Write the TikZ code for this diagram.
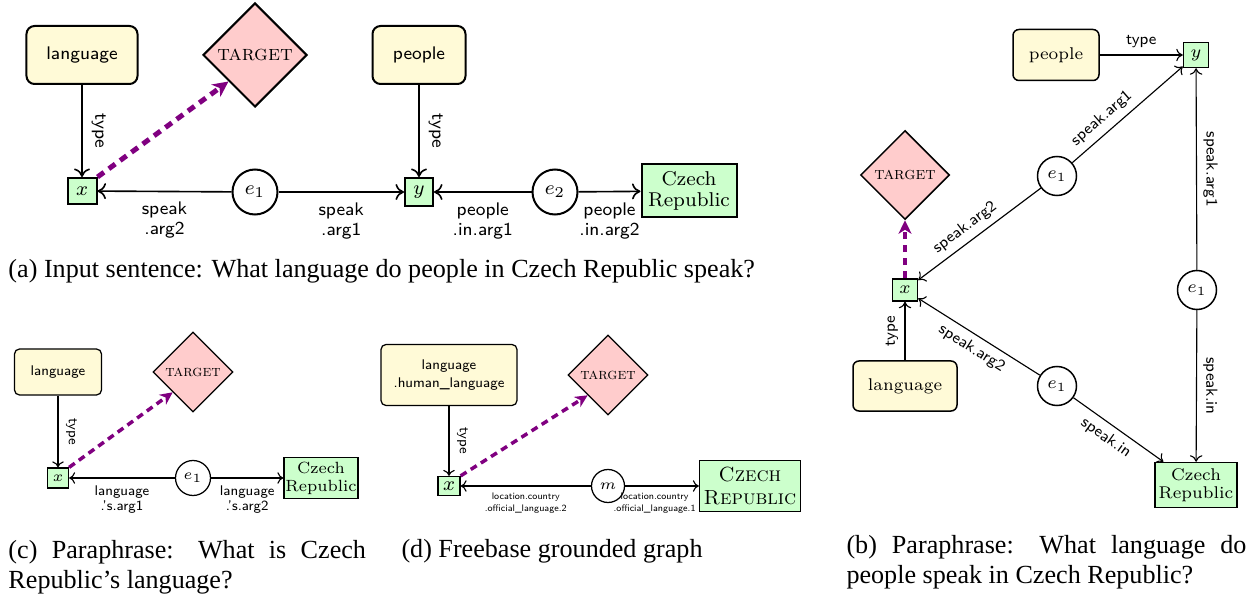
\documentclass[tikz,border=0pt]{standalone}
\usepackage{fontspec}
\newfontfamily\capfont{Liberation Serif}
\usetikzlibrary{shapes.geometric,arrows.meta}
\definecolor{yel}{RGB}{255,250,215}
\definecolor{grn}{RGB}{204,255,204}
\definecolor{pnk}{RGB}{255,204,204}
\definecolor{purp}{RGB}{128,0,128}
\newcommand\fsz[2]{\fontsize{#1}{#2}\selectfont}
\newcommand\capsetup{\capfont\fsz{10.45}{12}\hyphenpenalty=10000\relax\exhyphenpenalty=10000\relax\tolerance=10000\relax}
\begin{document}
\begin{tikzpicture}[x=0.4pt,y=-0.4pt,
  every node/.style={inner sep=0pt},
  captext/.style={font=\capsetup, inner sep=0pt},
]
\useasboundingbox (0,0) rectangle (1248,599);

% ---------------- panel (a)
\begin{scope}[
  ybox/.style={draw, fill=yel, rounded corners=3.2pt, line width=0.8pt, minimum height=23.2pt, font=\sffamily\fsz{7.3}{8}},
  gbox/.style={draw, fill=grn, line width=0.8pt, align=center, font=\fsz{8}{8.5}},
  tgt/.style={draw, fill=pnk, diamond, aspect=1, line width=0.8pt, minimum size=41.6pt, font=\fsz{8.6}{9}},
  ev/.style={draw, circle, line width=0.8pt, minimum size=18pt, font=\fsz{8}{9}},
  arr/.style={-{To[length=3.4pt,width=6.4pt]}, line width=0.65pt},
  dsh/.style={-{Stealth[length=6.2pt,width=6pt,inset=1.8pt]}, purp, line width=2pt, dash pattern=on 3.2pt off 2.4pt},
  tl/.style={midway, rotate=-90, anchor=south, inner sep=3.5pt, font=\sffamily\fsz{7.3}{8}},
  el/.style={midway, below=4pt, align=center, font=\sffamily\fsz{7.3}{8}},
]
\node[ybox, minimum width=44.4pt] (la) at (82,55) {language};
\node[tgt] (ta) at (255,55) {\textsc{target}};
\node[ybox, minimum width=37.2pt] (pa) at (419,55) {people};
\node[gbox, minimum width=11.6pt, minimum height=10.4pt] (xa) at (82,191) {$x$};
\node[ev] (e1a) at (255,192) {$e_1$};
\node[gbox, minimum width=11.2pt, minimum height=11.2pt] (ya) at (419,192) {$y$};
\node[ev] (e2a) at (555,192) {$e_2$};
\node[gbox, minimum width=38pt, minimum height=21.2pt] (ca) at (689,191) {Czech\\Republic};
\draw[arr] (la) -- node[tl] {type} (xa);
\draw[arr] (pa) -- node[tl] {type} (ya);
\draw[arr] (e1a) -- node[el] {speak\\.arg2} (xa);
\draw[arr] (e1a) -- node[el] {speak\\.arg1} (ya);
\draw[arr] (e2a) -- node[el] {people\\.in.arg1} (ya);
\draw[arr] (e2a) -- node[el] {people\\.in.arg2} (ca);
\draw[dsh] (xa.north east) -- (ta.south west);
\end{scope}

% ---------------- panel (b)
\begin{scope}[
  ybox/.style={draw, fill=yel, rounded corners=2.4pt, line width=0.6pt, minimum height=20.4pt, font=\fsz{6.8}{8}},
  gbox/.style={draw, fill=grn, line width=0.6pt, align=center, font=\fsz{6.8}{7.4}},
  tgt/.style={draw, fill=pnk, diamond, aspect=1, line width=0.6pt, minimum size=35.6pt, font=\fsz{7}{8}},
  ev/.style={draw, circle, line width=0.6pt, minimum size=15.6pt, font=\fsz{6.8}{8}},
  arr/.style={-{To[length=2.6pt,width=5pt]}, line width=0.45pt},
  rarr/.style={{To[length=2.6pt,width=5pt]}-, line width=0.45pt},
  dsh/.style={-{Stealth[length=5.4pt,width=5.2pt,inset=1.6pt]}, purp, line width=1.6pt, dash pattern=on 3pt off 2.2pt},
  lab/.style={font=\sffamily\fsz{6.4}{7}, inner sep=2.5pt},
]
\node[ybox, minimum width=34.4pt] (pb) at (1056,55) {people};
\node[gbox, minimum width=10pt, minimum height=10pt] (yb) at (1196,55) {$y$};
\node[ev] (e1t) at (1057,176) {$e_1$};
\node[tgt] (tb) at (905,175) {\textsc{target}};
\node[gbox, minimum width=10pt, minimum height=8.8pt] (xb) at (905,290) {$x$};
\node[ev] (e1r) at (1197,290) {$e_1$};
\node[ybox, minimum width=41.6pt, minimum height=20pt] (lb) at (905,386) {language};
\node[ev] (e1b) at (1057,386) {$e_1$};
\node[gbox, minimum width=32.8pt, minimum height=18pt] (cb) at (1196,485) {Czech\\Republic};
\draw[arr] (pb) -- node[lab, midway, above] {type} (yb);
\draw[arr] (e1t) -- node[lab, sloped, above, pos=0.35] {speak.arg1} (yb);
\draw[rarr] (xb) -- node[lab, sloped, above, pos=0.45] {speak.arg2} (e1t);
\draw[arr] (e1r) -- node[lab, midway, rotate=-90, anchor=south] {speak.arg1} (yb);
\draw[arr] (lb) -- node[lab, midway, rotate=90, anchor=south] {type} (xb);
\draw[rarr] (xb) -- node[lab, sloped, below, pos=0.5] {speak.arg2} (e1b);
\draw[arr] (e1b) -- node[lab, sloped, below, pos=0.45] {speak.in} (cb);
\draw[arr] (e1r) -- node[lab, midway, rotate=-90, anchor=south] {speak.in} (cb);
\draw[dsh] (xb) -- (tb);
\end{scope}

% ---------------- panel (c)
\begin{scope}[
  ybox/.style={draw, fill=yel, rounded corners=2pt, line width=0.5pt, font=\sffamily\fsz{5.6}{6.5}},
  gbox/.style={draw, fill=grn, line width=0.5pt, align=center, font=\fsz{6.5}{7.2}},
  tgt/.style={draw, fill=pnk, diamond, aspect=1, line width=0.5pt, minimum size=32pt, font=\fsz{6.3}{7}},
  ev/.style={draw, circle, line width=0.5pt, minimum size=14pt, font=\fsz{6.5}{7}},
  arr/.style={-{To[length=2.4pt,width=4.6pt]}, line width=0.45pt},
  dsh/.style={-{Stealth[length=5pt,width=4.8pt,inset=1.5pt]}, purp, line width=1.4pt, dash pattern=on 2.8pt off 2pt},
  tl/.style={midway, rotate=-90, anchor=south, inner sep=3pt, font=\sffamily\fsz{5.6}{6.5}},
  el/.style={midway, below=3pt, align=center, font=\sffamily\fsz{5.6}{6}},
]
\node[ybox, minimum width=34.8pt, minimum height=18.4pt] (lc) at (58,372) {language};
\node[tgt] (tc) at (193,372) {\textsc{target}};
\node[gbox, minimum width=8.4pt, minimum height=8pt] (xc) at (58,478) {$x$};
\node[ev] (ec) at (193,478) {$e_1$};
\node[gbox, minimum width=29.6pt, minimum height=16.4pt] (cc) at (321,478) {Czech\\Republic};
\draw[arr] (lc) -- node[tl] {type} (xc);
\draw[arr] (ec) -- node[el] {language\\.'s.arg1} (xc);
\draw[arr] (ec) -- node[el] {language\\.'s.arg2} (cc);
\draw[dsh] (xc.north east) -- (tc.south west);
\end{scope}

% ---------------- panel (d)
\begin{scope}[
  ybox/.style={draw, fill=yel, rounded corners=2pt, line width=0.5pt, align=center, font=\sffamily\fsz{5.6}{7}},
  gbox/.style={draw, fill=grn, line width=0.5pt, align=center, font=\fsz{8.2}{9}},
  tgt/.style={draw, fill=pnk, diamond, aspect=1, line width=0.5pt, minimum size=32pt, font=\fsz{6.3}{7}},
  ev/.style={draw, circle, line width=0.5pt, minimum size=13.2pt, font=\fsz{6.5}{7}},
  arr/.style={-{To[length=2.4pt,width=4.6pt]}, line width=0.45pt},
  dsh/.style={-{Stealth[length=5pt,width=4.8pt,inset=1.5pt]}, purp, line width=1.4pt, dash pattern=on 2.8pt off 2pt},
  tl/.style={midway, rotate=-90, anchor=south, inner sep=3pt, font=\sffamily\fsz{5.6}{6.5}},
  el/.style={below=2.5pt, align=center, font=\sffamily\fsz{3.8}{4.8}},
]
\node[ybox, minimum width=54.4pt, minimum height=24.4pt] (ld) at (449,375) {language\\.human\_language};
\node[tgt] (td) at (608,375) {\textsc{target}};
\node[gbox, minimum width=8.8pt, minimum height=7.6pt] (xd) at (449,486) {$x$};
\node[ev] (md) at (608,486) {$m$};
\node[gbox, minimum width=40.4pt, minimum height=20.4pt] (cd) at (750,486) {\textsc{Czech}\\\textsc{Republic}};
\draw[arr] (ld) -- node[tl] {type} (xd);
\draw[arr] (md) -- node[el, pos=0.5] {location.country\\.official\_language.2} (xd);
\draw[arr] (md) -- node[el, pos=0.4] {location.country\\.official\_language.1} (cd);
\draw[dsh] (xd.north east) -- (td.south west);
\end{scope}

% ---------------- captions
\node[captext, anchor=north west] (capa) at (8,259) {(a) Input sentence: What language do people in Czech Republic speak?};
\node[captext, anchor=north west, text width=160pt, align=justify] (capb) at (846,535) {(b) Paraphrase:  What language do people speak in Czech Republic?};
\node[captext, anchor=north west, text width=143pt, align=justify] (capc) at (8,540) {(c) Paraphrase:  What is Czech Republic’s language?};
\node[captext, anchor=north west] (capd) at (401,539) {(d) Freebase grounded graph};
\end{tikzpicture}
\end{document}
